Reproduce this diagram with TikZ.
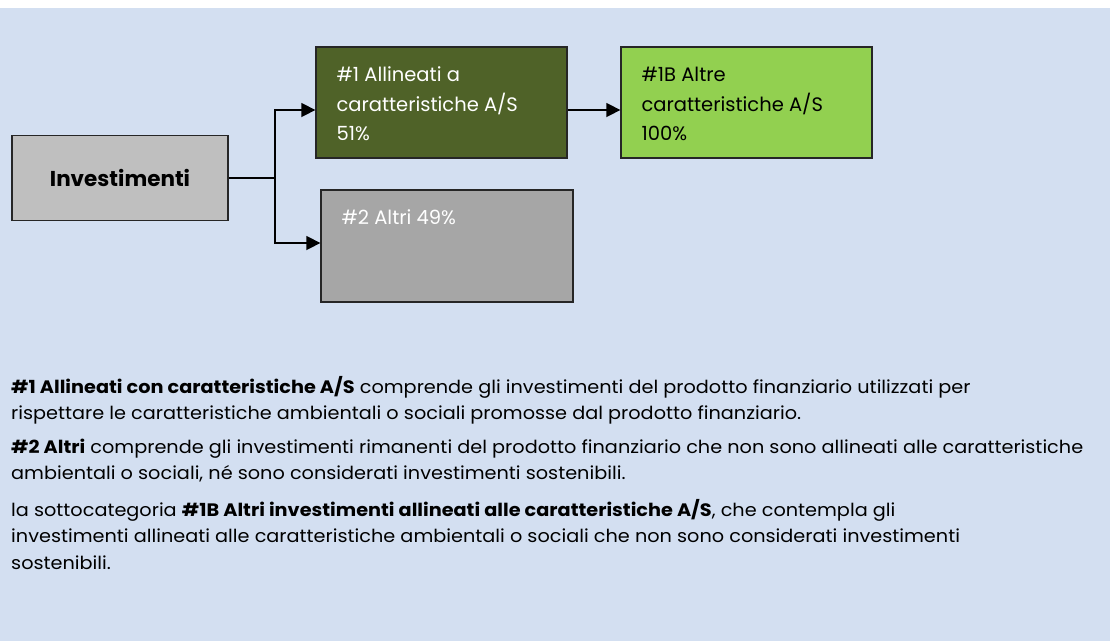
\documentclass[tikz,border=0pt]{standalone}
\usepackage{fontspec}
\setmainfont{Poppins}
\newfontfamily\bodyfont{Poppins}[FakeStretch=1.07]
\usetikzlibrary{arrows.meta}

\definecolor{bgblue}{HTML}{D3DFF1}
\definecolor{darkolive}{HTML}{4F6228}
\definecolor{limegreen}{HTML}{92D050}
\definecolor{lightgrey}{HTML}{BFBFBF}
\definecolor{midgrey}{HTML}{A6A6A6}

\begin{document}
\begin{tikzpicture}[x=1pt,y=-1pt]
\useasboundingbox (0,0) rectangle (1110,641);
\fill[bgblue] (0,8) rectangle (1110,641);

\begin{scope}[every node/.style={draw=black!85,line width=1.3pt,minimum width=251pt,minimum height=111pt,inner sep=0pt}]
    \node[fill=lightgrey,minimum width=216pt,minimum height=85pt,
          font=\fontsize{21.5}{24}\selectfont\bfseries] (Invest) at (120,178) {Investimenti};
    \node[fill=darkolive] (Aligned) at (441.5,102.5) {};
    \node[fill=limegreen] (OtherAS) at (746.5,102.5) {};
    \node[fill=midgrey,minimum width=252pt,minimum height=112pt] (Other) at (447,246) {};
\end{scope}

\begin{scope}[every node/.style={anchor=north west,align=left,inner sep=0pt,
              font=\fontsize{19.5}{29.5}\selectfont}]
    \node[text=white] (AlignedTxt) at ([shift={(21,20.6)}]Aligned.north west) {\#1 Allineati a\\caratteristiche A/S\\51\%};
    \node (OtherASTxt) at ([shift={(21,20.6)}]OtherAS.north west) {\#1B Altre\\caratteristiche A/S\\100\%};
    \node[text=white] (OtherTxt) at ([shift={(21,20.6)}]Other.north west) {\#2 Altri 49\%};
\end{scope}

\coordinate (Split) at (275,178);
\begin{scope}[>={Triangle[length=14pt,width=14pt]},line width=1.5pt]
    \draw (Invest.east) -- (Split);
    \draw [->] (Split) |- ([yshift=-7.5pt]Aligned.west);
    \draw [->] (Split) |- ([yshift=3pt]Other.west);
    \draw [->] ([yshift=-7.5pt]Aligned.east) -- ([yshift=-7.5pt]OtherAS.west);
\end{scope}

\begin{scope}[every node/.style={anchor=north west,align=left,inner sep=0pt,
              font=\bodyfont\fontsize{18}{26.5}\selectfont}]
    \node (DescAligned) at (11,375.7) {\textbf{\#1 Allineati con caratteristiche A/S} comprende gli investimenti del prodotto finanziario utilizzati per\\rispettare le caratteristiche ambientali o sociali promosse dal prodotto finanziario.};
    \node (DescOther) at (11,438.7) {\textbf{\#2 Altri} comprende gli investimenti rimanenti del prodotto finanziario che non sono allineati alle caratteristiche\\ambientali o sociali, né sono considerati investimenti sostenibili.};
    \node (DescSub) at (11,498.7) {la sottocategoria \textbf{\#1B Altri investimenti allineati alle caratteristiche A/S}, che contempla gli\\investimenti allineati alle caratteristiche ambientali o sociali che non sono considerati investimenti\\sostenibili.};
\end{scope}
\end{tikzpicture}
\end{document}
